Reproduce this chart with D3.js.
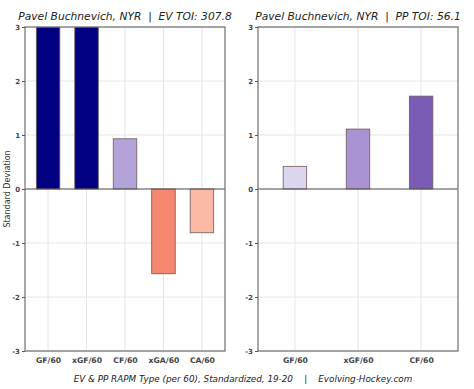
<!DOCTYPE html>
<html>
<head>
<meta charset="utf-8">
<script src="https://cdn.jsdelivr.net/npm/d3@7"></script>
<style>
  body { margin: 0; background: #fff; }
  svg { display: block; font-family: "DejaVu Sans", sans-serif; }
  svg text { font-family: "DejaVu Sans", sans-serif; white-space: pre; }
  .tick text { font-weight: bold; fill: #444; }
</style>
</head>
<body>
<div id="chart"></div>
<script>
// values (GF/xGF at EV are off the scale, clipped at 3)
var evCats = ["GF/60", "xGF/60", "CF/60", "xGA/60", "CA/60"];
var evVals = [3.6, 3.4, 0.93, -1.57, -0.81];
var evColors = ["#000080", "#000080", "#b3a3d9", "#f4876d", "#fcbaa6"];

var ppCats = ["GF/60", "xGF/60", "CF/60"];
var ppVals = [0.42, 1.11, 1.72];
var ppColors = ["#dcd5ee", "#a892d1", "#7a5cb5"];

var yTicks = [-3, -2, -1, 0, 1, 2, 3];

var W = 474, H = 389;
var plotTop = 27, plotBottom = 351, barW = 23.5;

var svg = d3.select("#chart").append("svg")
    .attr("width", W)
    .attr("height", H);

var y = d3.scaleLinear().domain([-3, 3]).range([plotBottom, plotTop]);

function panel(id, left, right, cats, vals, colors, title, pad) {
    var x = d3.scalePoint().domain(cats).range([left, right]).padding(pad);
    var g = svg.append("g");

    g.append("clipPath").attr("id", id)
      .append("rect").attr("x", left).attr("y", plotTop)
      .attr("width", right - left).attr("height", plotBottom - plotTop);

    // grid
    g.selectAll(".vg").data(cats).enter().append("line")
        .attr("x1", d => x(d)).attr("x2", d => x(d))
        .attr("y1", plotTop).attr("y2", plotBottom)
        .attr("stroke", "#e4e4e4").attr("stroke-width", 1);
    g.selectAll(".hg").data(yTicks).enter().append("line")
        .attr("x1", left).attr("x2", right)
        .attr("y1", d => y(d)).attr("y2", d => y(d))
        .attr("stroke", "#e4e4e4").attr("stroke-width", 1);

    g.append("g").attr("clip-path", "url(#" + id + ")")
      .selectAll("rect").data(vals).enter().append("rect")
        .attr("x", (d, i) => x(cats[i]) - barW / 2)
        .attr("width", barW)
        .attr("y", d => y(Math.max(0, d)))
        .attr("height", d => Math.abs(y(d) - y(0)))
        .attr("fill", (d, i) => colors[i])
        .attr("stroke", "#6b5a5a").attr("stroke-width", 0.8);

    // zero line
    g.append("line")
        .attr("x1", left).attr("x2", right)
        .attr("y1", y(0)).attr("y2", y(0))
        .attr("stroke", "#555").attr("stroke-width", 1.2);

    // frame
    g.append("rect")
        .attr("x", left).attr("y", plotTop)
        .attr("width", right - left).attr("height", plotBottom - plotTop)
        .attr("fill", "none").attr("stroke", "#7a7a7a").attr("stroke-width", 1.3);

    var yAxis = d3.axisLeft(y).tickValues(yTicks).tickSize(3).tickPadding(2)
        .tickFormat(d => String(d));
    var ya = g.append("g").attr("transform", "translate(" + left + ",0)").call(yAxis)
        .attr("font-family", null);
    ya.select(".domain").remove();
    ya.selectAll("line").attr("stroke", "#555");
    ya.selectAll("text").style("font-size", "7px");

    var xAxis = d3.axisBottom(x).tickSize(0).tickPadding(7);
    var xa = g.append("g").attr("transform", "translate(0," + plotBottom + ")").call(xAxis)
        .attr("font-family", null);
    xa.select(".domain").remove();
    xa.selectAll("text").style("font-size", "7.7px");

    g.append("text")
        .attr("x", (left + right) / 2).attr("y", 20)
        .attr("text-anchor", "middle")
        .style("font-size", "10.7px").style("font-style", "italic")
        .attr("fill", "#222")
        .text(title);
}

panel("clipEV", 25, 225, evCats, evVals, evColors, "Pavel Buchnevich, NYR  |  EV TOI: 307.8", 0.6);
panel("clipPP", 258, 458, ppCats, ppVals, ppColors, "Pavel Buchnevich, NYR  |  PP TOI: 56.1", 0.585);

svg.append("text")
    .attr("transform", "translate(10," + y(0) + ") rotate(-90)")
    .attr("text-anchor", "middle")
    .style("font-size", "8px")
    .attr("fill", "#333")
    .text("Standard Deviation");

svg.append("text")
    .attr("x", 243).attr("y", 382)
    .attr("text-anchor", "middle")
    .style("font-size", "8.8px").style("font-style", "italic")
    .attr("fill", "#222")
    .text("EV & PP RAPM Type (per 60), Standardized, 19-20    |    Evolving-Hockey.com");
</script>
</body>
</html>
